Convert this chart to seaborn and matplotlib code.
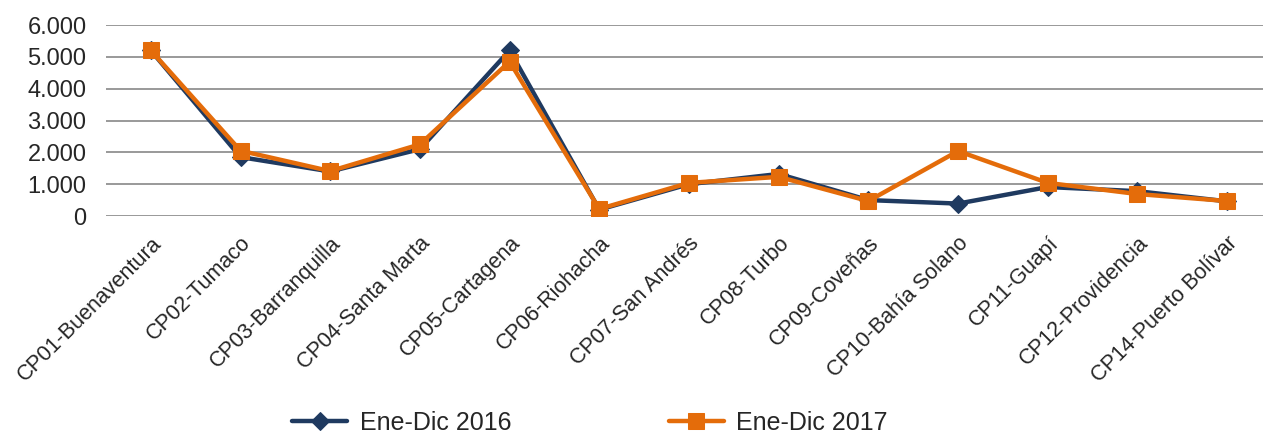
import pandas as pd
import seaborn as sns
import matplotlib.pyplot as plt
import matplotlib.ticker as ticker

# --- Data ---
ports = ['CP01-Buenaventura', 'CP02-Tumaco', 'CP03-Barranquilla', 'CP04-Santa Marta',
         'CP05-Cartagena', 'CP06-Riohacha', 'CP07-San Andrés', 'CP08-Turbo',
         'CP09-Coveñas', 'CP10-Bahía Solano', 'CP11-Guapí', 'CP12-Providencia',
         'CP14-Puerto Bolívar']
vals_2016 = [5200, 1850, 1400, 2100, 5200, 200, 1000, 1320, 500, 390, 910, 780, 460]
vals_2017 = [5200, 2050, 1410, 2250, 4850, 220, 1040, 1230, 470, 2040, 1040, 690, 470]
series_names = ['Ene-Dic 2016', 'Ene-Dic 2017']

# --- Style ---
sns.set_style("white")
plt.rcParams['font.family'] = ['Liberation Sans', 'DejaVu Sans']

palette = {'Ene-Dic 2016': '#1F3A60', 'Ene-Dic 2017': '#E46C0A'}
markers = {'Ene-Dic 2016': 'D', 'Ene-Dic 2017': 's'}
msizes = {'Ene-Dic 2016': 9, 'Ene-Dic 2017': 11}

df = pd.DataFrame({
    'pos': list(range(len(ports))) * 2,
    'value': vals_2016 + vals_2017,
    'series': [series_names[0]] * len(ports) + [series_names[1]] * len(ports),
})

fig = plt.figure(figsize=(12.63, 4.34), dpi=100)
ax = fig.add_axes([106 / 1263, 1 - 216 / 434, 1 - 106 / 1263, (216 - 25) / 434])

for name in series_names:
    sub = df[df['series'] == name]
    sns.lineplot(data=sub, x='pos', y='value', ax=ax, color=palette[name],
                 marker=markers[name], markersize=msizes[name],
                 markeredgecolor=palette[name], linewidth=3.2,
                 label=name, sort=False)

ax.set_ylim(0, 6000)
ax.set_xlim(-0.5, 12.4)
ax.set_yticks(range(0, 6001, 1000))
ax.yaxis.set_major_formatter(ticker.FuncFormatter(
    lambda v, p: f'{int(v):,}'.replace(',', '.')))
ax.grid(True, axis='y', color='#999999', linewidth=1.4)
ax.set_axisbelow(True)
for s in ax.spines.values():
    s.set_visible(False)

ax.set_xticks(range(len(ports)))
ax.set_xticklabels(ports, rotation=45, ha='right', rotation_mode='anchor')
ax.tick_params(axis='x', labelsize=15.5, pad=12, length=0)
ax.tick_params(axis='y', labelsize=17, pad=14, length=0)
ax.set_xlabel('')
ax.set_ylabel('')

ax.get_legend().remove()
handles, labels = ax.get_legend_handles_labels()
fig.legend(handles, labels, loc='center', bbox_to_anchor=(0.467, 0.026), ncol=2,
           frameon=False, fontsize=18, columnspacing=6.3, handlelength=2.2,
           handletextpad=0.5)

plt.savefig('out.png', dpi=100)
